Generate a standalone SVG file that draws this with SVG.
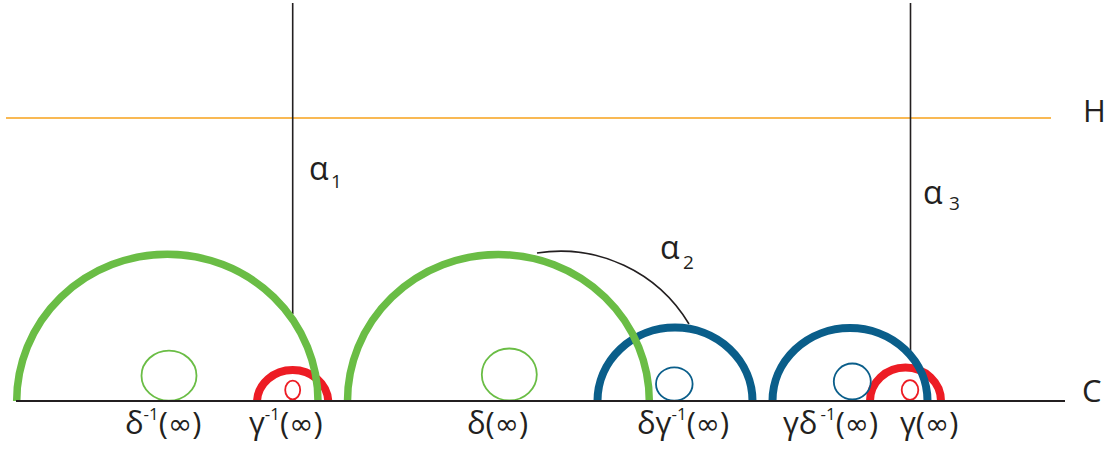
<svg xmlns="http://www.w3.org/2000/svg" width="1112" height="449" viewBox="0 0 1112 449">
<style>
.bg{fill:#fff}
.ln{stroke:#231F20;stroke-width:1.6;fill:none}
.base{stroke:#231F20;stroke-width:2;fill:none}
.hl{stroke:#F7A21B;stroke-width:1.6;fill:none}
.g{stroke:#6ABD45;stroke-width:7.5;fill:none}
.b{stroke:#0A5E8A;stroke-width:8;fill:none}
.r{stroke:#ED1C24;stroke-width:8;fill:none}
.gs{stroke:#6ABD45;stroke-width:1.8;fill:none}
.bs{stroke:#0A5E8A;stroke-width:1.8;fill:none}
.rs{stroke:#ED1C24;stroke-width:1.8;fill:none}
.t{font-family:"Open Sans","DejaVu Sans",sans-serif;fill:#231F20}
.lab{font-size:31px}
.inf{font-family:"DejaVu Sans",sans-serif;font-size:29px}
.sup{font-size:17px}
.al{font-size:32px}
.sub{font-size:19px}
.big{font-size:31px}
</style>
<rect class="bg" x="0" y="0" width="1112" height="449"/>
<g id="connectors">
<line class="hl" x1="6" y1="118" x2="1051" y2="118"/>
<line class="ln" x1="292.7" y1="3" x2="292.7" y2="314"/>
<line class="ln" x1="910.5" y1="3" x2="910.5" y2="352"/>
<path class="ln" d="M537,253 A150,150 0 0 1 689,324" stroke-width="1.3"/>
</g>
<g id="red-arcs">
<path class="r" d="M257,401 A35.7,32.7 0 0 1 328.3,401"/>
<path class="r" d="M870,401 A35.5,33.5 0 0 1 941,401"/>
</g>
<g id="blue-arcs">
<path class="b" d="M597.5,401 A77.5,73.5 0 0 1 752.5,401"/>
<path class="b" d="M772.5,401 A77.5,73 0 0 1 927.5,401"/>
</g>
<g id="green-arcs">
<path class="g" d="M16.7,401 A150.6,146.7 0 0 1 318,401"/>
<path class="g" d="M347.5,401 A150.9,146.5 0 0 1 649.3,401"/>
</g>
<g id="small-circles">
<ellipse class="gs" cx="169" cy="375.7" rx="27.5" ry="25"/>
<ellipse class="gs" cx="509.3" cy="374.5" rx="27.5" ry="26"/>
<ellipse class="bs" cx="674.3" cy="384" rx="18.3" ry="16.7"/>
<ellipse class="bs" cx="852.3" cy="381.5" rx="18.5" ry="18"/>
<ellipse class="rs" cx="292.7" cy="390" rx="7.5" ry="9.3"/>
<ellipse class="rs" cx="910" cy="390" rx="8.3" ry="9.8"/>
</g>
<line id="baseline" class="base" x1="16" y1="401" x2="1065" y2="401"/>
<g id="labels" class="t">
<text class="big" x="1083" y="122">H</text>
<text class="big" x="1082" y="402">C</text>
<text class="al" x="309" y="180">α<tspan class="sub" x="331" y="188">1</tspan></text>
<text class="al" x="660" y="259">α<tspan class="sub" x="683" y="269">2</tspan></text>
<text class="al" x="923" y="204">α<tspan class="sub" x="949" y="210">3</tspan></text>
<text class="lab" x="125" y="434">δ<tspan class="sup" dy="-14">-1</tspan><tspan dy="14">(<tspan class="inf">∞</tspan>)</tspan></text>
<text class="lab" x="249" y="434">γ<tspan class="sup" dy="-14">-1</tspan><tspan dy="14">(<tspan class="inf">∞</tspan>)</tspan></text>
<text class="lab" x="467" y="434">δ(<tspan class="inf">∞</tspan>)</text>
<text class="lab" x="637" y="434">δγ<tspan class="sup" dy="-14">-1</tspan><tspan dy="14">(<tspan class="inf">∞</tspan>)</tspan></text>
<text class="lab" x="783" y="434">γδ<tspan class="sup" dy="-14" dx="3">-1</tspan><tspan dy="14">(<tspan class="inf">∞</tspan>)</tspan></text>
<text class="lab" x="900" y="434">γ(<tspan class="inf">∞</tspan>)</text>
</g>
</svg>
